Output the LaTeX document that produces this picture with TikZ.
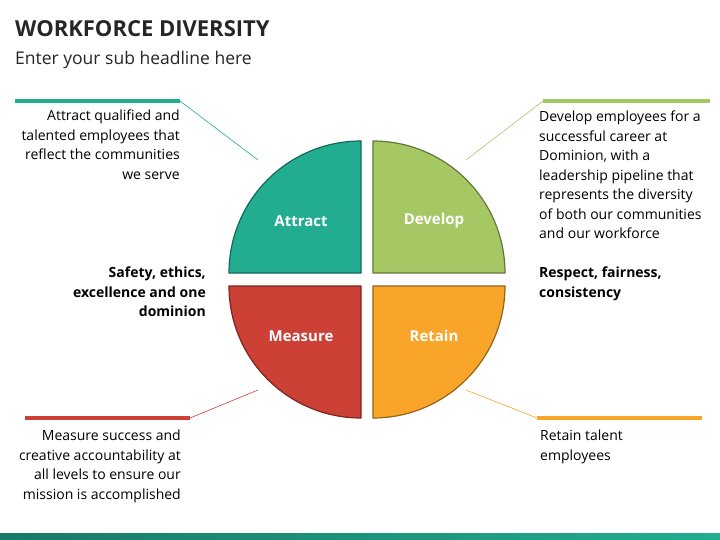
\documentclass[tikz,border=0pt]{standalone}
\usepackage{fontspec}
\setmainfont{Open Sans}
\definecolor{teal}{HTML}{22AD91}
\definecolor{grn}{HTML}{A5C864}
\definecolor{red}{HTML}{CC4036}
\definecolor{org}{HTML}{F9A52A}
\begin{document}
\begin{tikzpicture}[x=1pt,y=-1pt,
 quad/.style={line width=1.2pt,draw=#1!60!black},
 lbl/.style={text=white,font=\bfseries\fontsize{15}{17}\selectfont},
 body/.style={font=\fontsize{14}{19.5}\selectfont,align=#1,inner sep=0},
 bar/.style={line width=4.5pt,#1},
 lead/.style={line width=0.6pt,#1}]
\useasboundingbox (0,0) rectangle (720,540);
\fill[white] (0,0) rectangle (720,540);
\node[anchor=west,font=\bfseries\fontsize{22}{26}\selectfont,text=black!85,inner sep=0] (title) at (15,29) {WORKFORCE DIVERSITY};
\node[anchor=west,font=\fontsize{17.5}{21}\selectfont,text=black!85,inner sep=0] (sub) at (15,60) {Enter your sub headline here};
% quadrants
\filldraw[fill=teal,quad=teal] (361,273) -- (229,273) arc[start angle=180,end angle=270,radius=132] -- cycle;
\filldraw[fill=grn,quad=grn] (373,273) -- (373,141) arc[start angle=270,end angle=360,radius=132] -- cycle;
\filldraw[fill=red,quad=red] (361,286) -- (361,418) arc[start angle=90,end angle=180,radius=132] -- cycle;
\filldraw[fill=org,quad=org] (373,286) -- (505,286) arc[start angle=0,end angle=90,radius=132] -- cycle;
\node[lbl] (att) at (301,221) {Attract};
\node[lbl] (dev) at (434,221) {Develop};
\node[lbl] (mea) at (301,336) {Measure};
\node[lbl] (ret) at (434,336) {Retain};
% bars and leaders
\coordinate (tl) at (180,101); \coordinate (tlq) at (258,160);
\coordinate (tr) at (543,101); \coordinate (trq) at (466,160);
\coordinate (bl) at (190,418); \coordinate (blq) at (258,390);
\coordinate (br) at (537,418); \coordinate (brq) at (466,390);
\draw[bar=teal] (15,101) -- (tl); \draw[lead=teal] (tl) -- (tlq);
\draw[bar=grn] (tr) -- (710,101); \draw[lead=grn] (tr) -- (trq);
\draw[bar=red] (25,418) -- (bl); \draw[lead=red] (bl) -- (blq);
\draw[bar=org] (br) -- (702,418); \draw[lead=org] (br) -- (brq);
% texts
\node[body=right,anchor=north east] (t1) at (180,110) {Attract qualified and\\talented employees that\\reflect the communities\\we serve};
\node[body=left,anchor=north west] (t2) at (539,111) {Develop employees for a\\successful career at\\Dominion, with a\\leadership pipeline that\\represents the diversity\\of both our communities\\and our workforce};
\node[body=right,anchor=north east,font=\bfseries\fontsize{14}{19.5}\selectfont] (t3) at (206,267) {Safety, ethics,\\excellence and one\\dominion};
\node[body=left,anchor=north west,font=\bfseries\fontsize{14}{19.5}\selectfont] (t4) at (539,267) {Respect, fairness,\\consistency};
\node[body=right,anchor=north east] (t5) at (181,430) {Measure success and\\creative accountability at\\all levels to ensure our\\mission is accomplished};
\node[body=left,anchor=north west] (t6) at (540,430) {Retain talent\\employees};
\shade[left color=teal!70!black,right color=teal] (0,533) rectangle (720,540);
\end{tikzpicture}
\end{document}
